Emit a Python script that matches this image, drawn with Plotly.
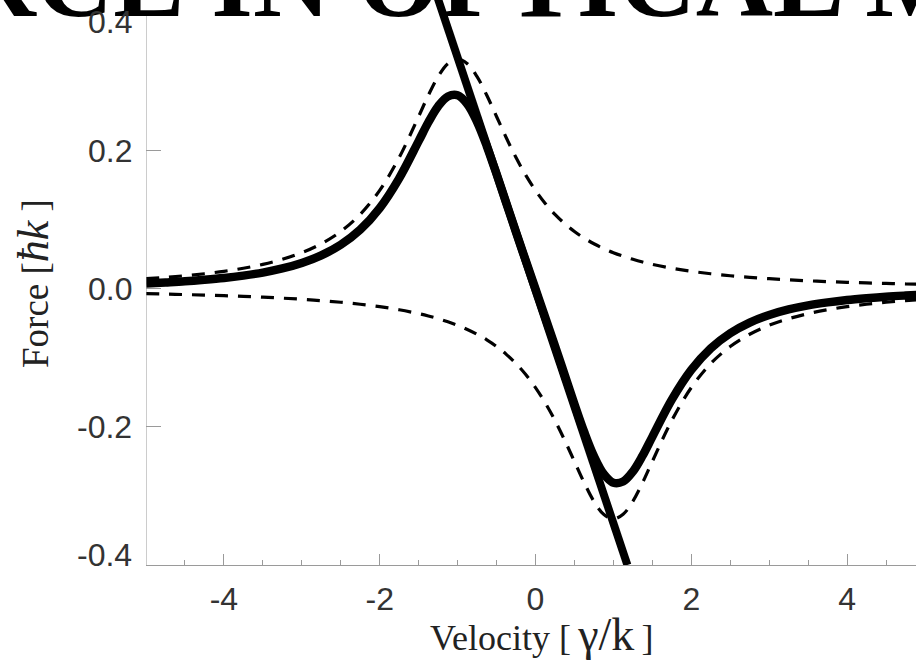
import plotly.graph_objects as go

# ---- data ----
velocity = [-5, -4.75, -4.5, -4.25, -4, -3.75, -3.5, -3.25, -3, -2.75, -2.5, -2.25, -2, -1.75, -1.5,
            -1.375, -1.25, -1.125, -1, -0.875, -0.75, -0.625, -0.5, -0.375, -0.25, -0.125, 0,
            0.125, 0.25, 0.375, 0.5, 0.625, 0.75, 0.875, 1, 1.125, 1.25, 1.375,
            1.5, 1.75, 2, 2.25, 2.5, 2.75, 3, 3.25, 3.5, 3.75, 4, 4.25, 4.5, 4.75, 5]

force_plus = [0.0149, 0.0169, 0.0192, 0.0221, 0.0256, 0.0301, 0.0357, 0.0430, 0.0526, 0.0656, 0.0833, 0.1081, 0.1429, 0.1905, 0.2500,
              0.2807, 0.3077, 0.3265, 0.3333, 0.3265, 0.3077, 0.2807, 0.2500, 0.2192, 0.1905, 0.1650, 0.1429,
              0.1240, 0.1081, 0.0947, 0.0833, 0.0737, 0.0656, 0.0586, 0.0526, 0.0475, 0.0430, 0.0391,
              0.0357, 0.0301, 0.0256, 0.0221, 0.0192, 0.0169, 0.0149, 0.0133, 0.0119, 0.0107, 0.0097, 0.0088, 0.0081, 0.0074, 0.0068]

force_minus = [-0.0068, -0.0074, -0.0081, -0.0088, -0.0097, -0.0107, -0.0119, -0.0133, -0.0149, -0.0169, -0.0192, -0.0221, -0.0256, -0.0301, -0.0357,
               -0.0391, -0.0430, -0.0475, -0.0526, -0.0586, -0.0656, -0.0737, -0.0833, -0.0947, -0.1081, -0.1240, -0.1429,
               -0.1650, -0.1905, -0.2192, -0.2500, -0.2807, -0.3077, -0.3265, -0.3333, -0.3265, -0.3077, -0.2807,
               -0.2500, -0.1905, -0.1429, -0.1081, -0.0833, -0.0656, -0.0526, -0.0430, -0.0357, -0.0301, -0.0256, -0.0221, -0.0192, -0.0169, -0.0149]

force_total = [0.0081, 0.0095, 0.0111, 0.0133, 0.0159, 0.0194, 0.0238, 0.0297, 0.0377, 0.0487, 0.0641, 0.0860, 0.1173, 0.1604, 0.2143,
               0.2416, 0.2647, 0.2790, 0.2807, 0.2679, 0.2421, 0.2070, 0.1667, 0.1245, 0.0824, 0.0410, 0.0,
               -0.0410, -0.0824, -0.1245, -0.1667, -0.2070, -0.2421, -0.2679, -0.2807, -0.2790, -0.2647, -0.2416,
               -0.2143, -0.1604, -0.1173, -0.0860, -0.0641, -0.0487, -0.0377, -0.0297, -0.0238, -0.0194, -0.0159, -0.0133, -0.0111, -0.0095, -0.0081]

linear_velocity = [-1.28, 1.18]
linear_force = [0.43, -0.40]

x_tickvals = [-4, -2, 0, 2, 4]
x_ticktext = ["-4", "-2", "0", "2", "4"]
x_minor = [-4.5, -3.5, -3, -2.5, -1.5, -1, -0.5, 0.5, 1, 1.5, 2.5, 3, 3.5, 4.5]
y_tickvals = [-0.4, -0.2, 0.0, 0.2, 0.4]
y_ticktext = ["-0.4", "-0.2", "0.0", "0.2", "0.4"]
y_label_shift = [10, 0, 0, 0, -9]   # end labels are pulled inward in the reference

x_range = [-5, 4.885]
y_range = [-0.4, 0.4188]

title_text = "FORCE IN OPTICAL MOLASSES"
x_title = "Velocity [\u2009<span style='font-size:46px'>γ/k</span>\u2009]"
y_title = "Force [<i><span style='font-size:44px'>ħk</span></i> ]"

AX = "#9a9a9a"
TICKFONT = dict(family="Liberation Sans", size=32, color="#333333")

fig = go.Figure()
fig.add_trace(go.Scatter(x=velocity, y=force_plus, mode="lines", line=dict(color="black", width=3.2, dash="13px,10px", shape="spline")))
fig.add_trace(go.Scatter(x=velocity, y=force_minus, mode="lines", line=dict(color="black", width=3.2, dash="13px,10px", shape="spline")))
fig.add_trace(go.Scatter(x=velocity, y=force_total, mode="lines", line=dict(color="black", width=8.5, shape="spline")))
fig.add_trace(go.Scatter(x=linear_velocity, y=linear_force, mode="lines", line=dict(color="black", width=8)))

annotations = [
    dict(text=title_text, xref="paper", yref="paper", x=-0.439, y=0.9272, xanchor="left", yanchor="bottom",
         showarrow=False, font=dict(family="Liberation Serif", size=107, color="black", weight=700)),
    dict(text=x_title, xref="paper", yref="paper", x=(541 - 146) / 770, y=1 - 634 / 565, xanchor="center", yanchor="middle",
         showarrow=False, font=dict(family="Liberation Serif", size=36, color="#222222")),
    dict(text=y_title, xref="paper", yref="paper", x=(33 - 146) / 770, y=1 - 284 / 565, xanchor="center", yanchor="middle",
         textangle=-90, showarrow=False, font=dict(family="Liberation Serif", size=37, color="#222222")),
]
for val, txt, shift in zip(y_tickvals, y_ticktext, y_label_shift):
    annotations.append(dict(text=txt, xref="paper", yref="y", x=(134 - 146) / 770, y=val, xanchor="right", yanchor="middle",
                            yshift=shift, showarrow=False, font=TICKFONT))

fig.update_layout(
    width=916, height=661,
    margin=dict(l=146, r=0, t=0, b=96),
    paper_bgcolor="white", plot_bgcolor="white",
    showlegend=False,
    xaxis=dict(range=x_range, tickmode="array", tickvals=x_tickvals, ticktext=x_ticktext,
               ticks="inside", ticklen=11, tickcolor=AX, tickwidth=1,
               showline=True, linecolor=AX, linewidth=1, showgrid=False, zeroline=False,
               tickfont=TICKFONT, ticklabelstandoff=6,
               minor=dict(tickmode="array", tickvals=x_minor, ticks="inside", ticklen=5, tickcolor=AX, showgrid=False)),
    yaxis=dict(range=y_range, tickmode="array", tickvals=y_tickvals, ticktext=y_ticktext, showticklabels=False,
               ticks="inside", ticklen=15, tickcolor=AX, tickwidth=1,
               showline=False, showgrid=False, zeroline=False),
    shapes=[dict(type="line", xref="x", yref="y", x0=x_range[0], x1=x_range[0], y0=y_tickvals[0], y1=y_tickvals[-1],
                 line=dict(color=AX, width=1), layer="above")],
    annotations=annotations,
)

fig.write_html("out.html")
